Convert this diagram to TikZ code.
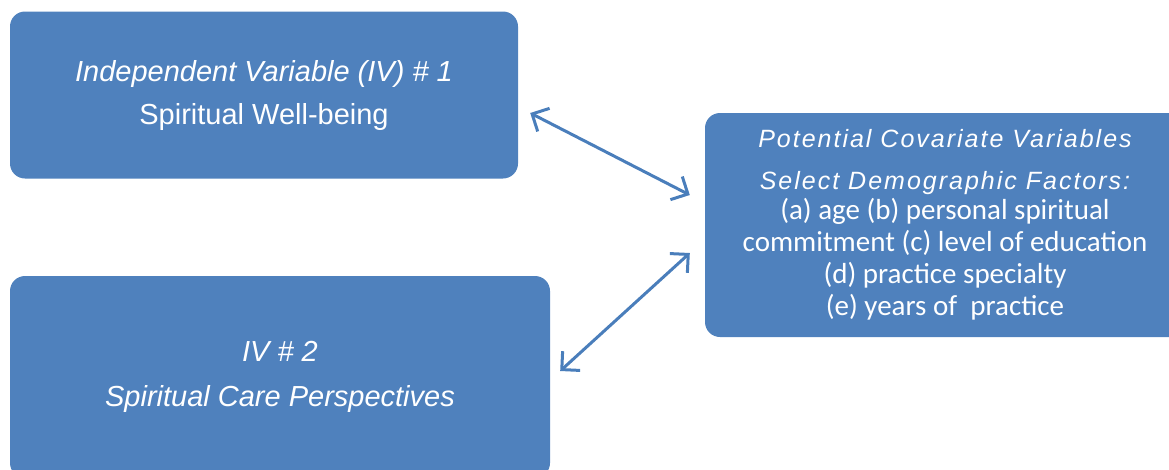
\documentclass[tikz,border=0pt]{standalone}
\usepackage{fontspec}
\setmainfont{Liberation Sans}
\newfontfamily\arialsp[LetterSpace=8]{Liberation Sans}
\newfontfamily\calib{Carlito}
\usetikzlibrary{arrows.meta}
\definecolor{boxblue}{HTML}{4F81BD}
\definecolor{arrblue}{HTML}{4A7EBB}
\tikzset{
  box/.style={fill=boxblue, draw=none, rounded corners=15pt, text=white, align=center, inner sep=0pt},
  conn/.style={draw=arrblue, line width=3pt, {Straight Barb[length=13pt,width=26pt]}-{Straight Barb[length=13pt,width=26pt]}}
}
\begin{document}
\begin{tikzpicture}[x=1pt,y=-1pt]
\useasboundingbox (0,0) rectangle (1169,469);
\clip (0,0) rectangle (1169,469);
\node[box, minimum width=508pt, minimum height=167pt, font=\fontsize{29}{43}\selectfont] (b1) at (264,95)
  {\itshape Independent Variable (IV) \# 1\\
   Spiritual Well-being};
\node[box, minimum width=540pt, minimum height=202pt, font=\fontsize{29}{45}\selectfont\itshape] (b2) at (280,377)
  {IV \# 2\\
   Spiritual Care Perspectives};
\node[box, minimum width=480pt, minimum height=224pt, font=\fontsize{29}{32}\selectfont] (b3) at (945,225)
  {\fontsize{25}{32}\selectfont\arialsp\itshape Potential Covariate Variables\\[10pt]
   \fontsize{25}{32}\selectfont\arialsp\itshape Select Demographic Factors:\\[-2pt]
   \calib (a) age (b) personal spiritual\\
   \calib commitment (c) level of education\\
   \calib (d) practice specialty\\
   \calib (e) years of~ practice};
\draw[conn] ([shift={(12,18)}]b1.east) -- ([shift={(-15,-30)}]b3.west);
\draw[conn] ([shift={(10,-6)}]b2.east) -- ([shift={(-15,28)}]b3.west);
\end{tikzpicture}
\end{document}
